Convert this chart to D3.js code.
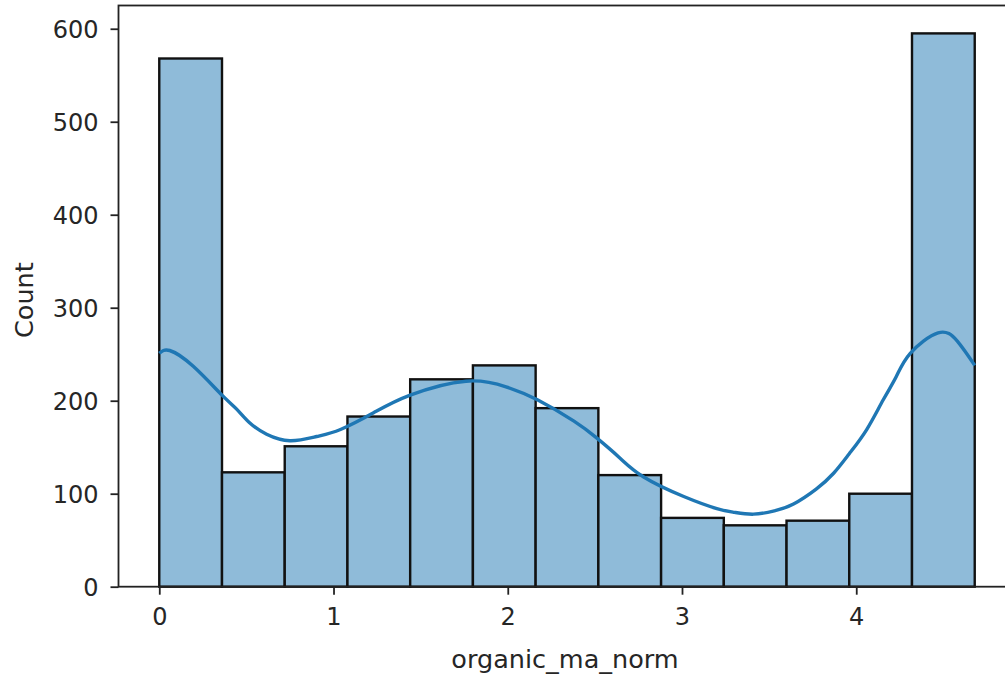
<!DOCTYPE html>
<html>
<head>
<meta charset="utf-8">
<script src="https://cdn.jsdelivr.net/npm/d3@7"></script>
<style>
  html, body { margin: 0; padding: 0; background: #fff; }
  svg { display: block; }
  text { font-family: "DejaVu Sans", sans-serif; fill: #262626; }
</style>
</head>
<body>
<svg id="chart" width="1005" height="681"></svg>
<script>
// Histogram bin edges of organic_ma_norm
const binEdges = [0, 0.36, 0.72, 1.08, 1.44, 1.80, 2.16, 2.52, 2.88, 3.24, 3.60, 3.96, 4.32, 4.68];
// Count per bin
const binCounts = [568, 123, 151, 183, 223, 238, 192, 120, 74, 66, 71, 100, 595];
// Kernel density estimate, scaled to counts
const kdeX = [0, 0.06, 0.195, 0.36, 0.444, 0.52, 0.616, 0.75, 0.903, 1.04, 1.23, 1.44, 1.76, 1.99, 2.17, 2.38, 2.51, 2.64, 2.78, 3.01, 3.2, 3.30, 3.41, 3.53, 3.64, 3.77, 3.87, 3.96, 4.06, 4.155, 4.23, 4.31, 4.47, 4.58, 4.68];
const kdeY = [251, 254, 237, 206, 191, 176, 164, 157, 161.5, 169, 187, 206, 221, 215, 201, 178, 160, 139, 118, 97, 84, 80, 78, 81.5, 89, 105, 122, 143, 169, 201, 226, 251, 273, 264, 238];
const xTicks = [0, 1, 2, 3, 4];
const yTicks = [0, 100, 200, 300, 400, 500, 600];
const xLabel = "organic_ma_norm";
const yLabel = "Count";

const svg = d3.select("#chart");
const plot = { left: 118.5, right: 1015.5, top: 5.5, bottom: 586.7 };

const x = d3.scaleLinear().domain([-0.234, 4.914]).range([plot.left, plot.right]);
const y = d3.scaleLinear().domain([0, 625]).range([plot.bottom, plot.top]);

const bins = binCounts.map((c, i) => ({ x0: binEdges[i], x1: binEdges[i + 1], count: c }));

// Bars
svg.append("g")
  .selectAll("rect")
  .data(bins)
  .join("rect")
  .attr("x", d => x(d.x0))
  .attr("y", d => y(d.count))
  .attr("width", d => x(d.x1) - x(d.x0))
  .attr("height", d => y(0) - y(d.count))
  .attr("fill", "#8fbbd9")
  .attr("stroke", "#111")
  .attr("stroke-width", 2.4);

// KDE curve
const kdePts = kdeX.map((v, i) => [v, kdeY[i]]);
svg.append("path")
  .datum(kdePts)
  .attr("fill", "none")
  .attr("stroke", "#1f77b4")
  .attr("stroke-width", 3.4)
  .attr("stroke-linecap", "butt")
  .attr("d", d3.line().x(d => x(d[0])).y(d => y(d[1])).curve(d3.curveNatural));

// Axes
const xAxis = svg.append("g")
  .attr("transform", `translate(0,${plot.bottom})`)
  .call(d3.axisBottom(x).tickValues(xTicks).tickFormat(d3.format("d")).tickSize(8).tickPadding(13));
const yAxis = svg.append("g")
  .attr("transform", `translate(${plot.left},0)`)
  .call(d3.axisLeft(y).tickValues(yTicks).tickFormat(d3.format("d")).tickSize(8).tickPadding(12));

[xAxis, yAxis].forEach(g => {
  g.select(".domain").remove();
  g.selectAll(".tick line").attr("stroke", "#222").attr("stroke-width", 1.8);
  g.selectAll(".tick text")
    .attr("fill", "#262626")
    .style("font-family", "'DejaVu Sans', sans-serif")
    .style("font-size", "24px");
});
yAxis.selectAll(".tick text").attr("dy", "0.36em");

// Frame
svg.append("rect")
  .attr("x", plot.left)
  .attr("y", plot.top)
  .attr("width", plot.right - plot.left)
  .attr("height", plot.bottom - plot.top)
  .attr("fill", "none")
  .attr("stroke", "#222")
  .attr("stroke-width", 1.8);

// Axis titles
svg.append("text")
  .attr("x", (plot.left + plot.right) / 2 - 2)
  .attr("y", 668)
  .attr("text-anchor", "middle")
  .style("font-size", "25.5px")
  .text(xLabel);

svg.append("text")
  .attr("transform", `translate(33,${(plot.top + plot.bottom) / 2 + 4}) rotate(-90)`)
  .attr("text-anchor", "middle")
  .style("font-size", "25.5px")
  .text(yLabel);
</script>
</body>
</html>
